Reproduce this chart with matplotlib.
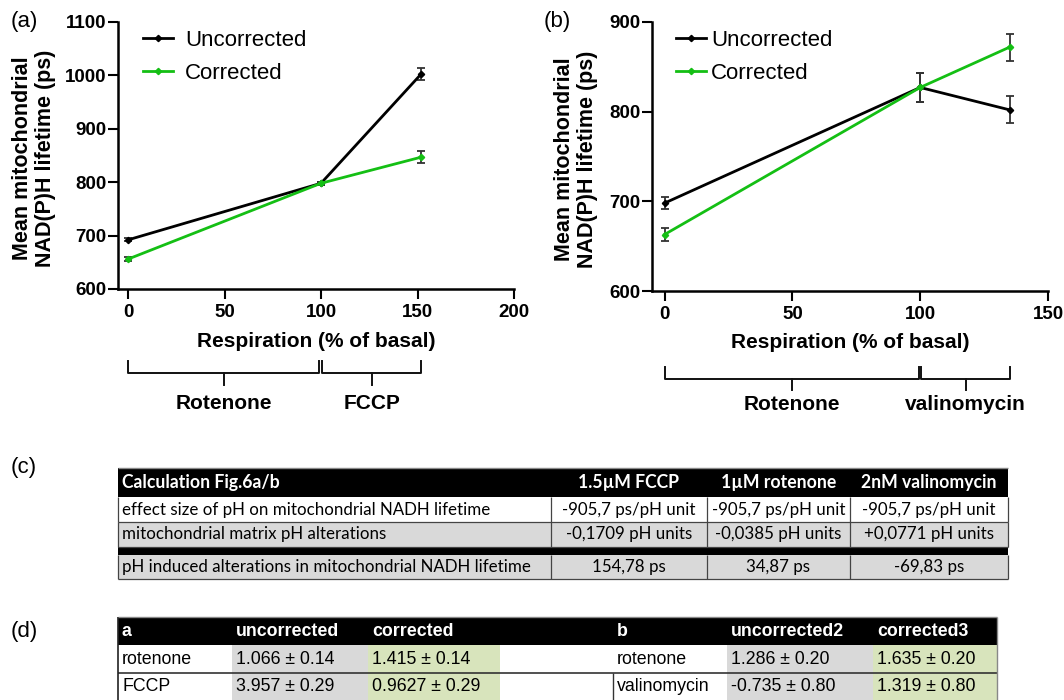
import matplotlib
matplotlib.use('Agg')
import matplotlib.pyplot as plt
from matplotlib.patches import Rectangle
from matplotlib.lines import Line2D

# ---------------- data ----------------
# Panel (a)
a_x = [0, 100, 152]
a_uncorr = [692, 798, 1003]
a_uncorr_err = [3, 3, 11]
a_corr = [656, 798, 847]
a_corr_err = [3, 3, 11]
a_xticks = [0, 50, 100, 150, 200]
a_yticks = [600, 700, 800, 900, 1000, 1100]
a_groups = ["Rotenone", "FCCP"]
a_group_spans = [(0, 99), (100.5, 152)]

# Panel (b)
b_x = [0, 100, 135]
b_uncorr = [698, 827, 802]
b_uncorr_err = [7, 16, 15]
b_corr = [663, 827, 872]
b_corr_err = [7, 16, 15]
b_xticks = [0, 50, 100, 150]
b_yticks = [600, 700, 800, 900]
b_groups = ["Rotenone", "valinomycin"]
b_group_spans = [(0, 99.5), (100.5, 135)]

series_names = ["Uncorrected", "Corrected"]
x_label = "Respiration (% of basal)"
y_label = "Mean mitochondrial\nNAD(P)H lifetime (ps)"

# Table (c)
c_header = ["Calculation Fig.6a/b", "1.5µM FCCP", "1µM rotenone", "2nM valinomycin"]
c_row_labels = ["effect size of pH on mitochondrial NADH lifetime",
                "mitochondrial matrix pH alterations",
                "pH induced alterations in mitochondrial NADH lifetime"]
c_values = [["-905,7 ps/pH unit", "-905,7 ps/pH unit", "-905,7 ps/pH unit"],
            ["-0,1709 pH units", "-0,0385 pH units", "+0,0771 pH units"],
            ["154,78 ps", "34,87 ps", "-69,83 ps"]]

# Table (d)
d_header_a = ["a", "uncorrected", "corrected"]
d_rows_a = [["rotenone", "1.066 ± 0.14", "1.415 ± 0.14"],
            ["FCCP", "3.957 ± 0.29", "0.9627 ± 0.29"]]
d_header_b = ["b", "uncorrected2", "corrected3"]
d_rows_b = [["rotenone", "1.286 ± 0.20", "1.635 ± 0.20"],
            ["valinomycin", "-0.735 ± 0.80", "1.319 ± 0.80"]]

# ---------------- style ----------------
W, H, DPI = 1064, 700, 100
GREEN = '#14bf14'
GRAY_CELL = '#d9d9d9'
GREEN_CELL = '#d8e4bc'
SANS = ['Liberation Sans', 'DejaVu Sans']
CAL = ['Lato', 'DejaVu Sans']
plt.rcParams['font.family'] = SANS

fig = plt.figure(figsize=(W / DPI, H / DPI), dpi=DPI)


def px_rect(l, t, r, b):
    return [l / W, 1 - b / H, (r - l) / W, (b - t) / H]


def make_chart(box, xs, unc, unc_e, cor, cor_e, xlim, ylim, xticks, yticks,
               ylab_xy, panel, panel_xy, leg_xy, htp, groups, spans, br_y):
    l, t, r, b = box
    ax = fig.add_axes(px_rect(l, t, r, b))
    ekw = dict(lw=2.0, marker='D', ms=3.2, ecolor='#333333', elinewidth=1.3,
               capsize=3, capthick=1.3)
    ax.errorbar(xs, unc, yerr=unc_e, color='black', zorder=3, **ekw)
    ax.errorbar(xs, cor, yerr=cor_e, color=GREEN, zorder=4, **ekw)
    ax.set_xlim(*xlim)
    ax.set_ylim(*ylim)
    ax.spines[['top', 'right']].set_visible(False)
    for s in ['left', 'bottom']:
        ax.spines[s].set_linewidth(1.8)
    ax.set_xticks(xticks)
    ax.set_xticklabels([str(v) for v in xticks], fontweight='bold', fontsize=13.5)
    ax.set_yticks(yticks)
    ax.set_yticklabels([str(v) for v in yticks], fontweight='bold', fontsize=13.5)
    ax.tick_params(axis='both', direction='out', length=7, width=1.5)
    ax.tick_params(axis='y', pad=1.5)
    ax.tick_params(axis='x', pad=3.5)
    hgt = b - t
    ax.set_xlabel(x_label, fontweight='bold', fontsize=15)
    ax.xaxis.set_label_coords(0.5, (b - 342) / hgt)
    ax.xaxis.label.set_va('center')
    fig.text(ylab_xy[0] / W, 1 - ylab_xy[1] / H, y_label, rotation=90,
             ha='center', va='center', fontweight='bold', fontsize=15.5,
             linespacing=1.08, multialignment='center')
    fig.text(panel_xy[0] / W, 1 - panel_xy[1] / H, panel, ha='left', va='center',
             fontsize=16)
    handles = [Line2D([], [], color='black', lw=2, marker='D', ms=3.2),
               Line2D([], [], color=GREEN, lw=2, marker='D', ms=3.2)]
    ax.legend(handles, series_names, loc='upper left',
              bbox_to_anchor=((leg_xy[0] - l) / (r - l), (b - leg_xy[1]) / hgt),
              frameon=False, fontsize=16, handlelength=1.35, handletextpad=htp,
              borderpad=0, borderaxespad=0, labelspacing=0.52)
    # brackets under the axis
    trans = ax.get_xaxis_transform()
    y_top, y_mid, y_tick, y_lab = [(b - v) / hgt for v in br_y]
    for (x0, x1), name in zip(spans, groups):
        xm = (x0 + x1) / 2
        ax.plot([x0, x0, x1, x1], [y_top, y_mid, y_mid, y_top], color='#111111',
                lw=1.4, transform=trans, clip_on=False)
        ax.plot([xm, xm], [y_mid, y_tick], color='#111111', lw=1.4,
                transform=trans, clip_on=False)
        ax.text(xm, y_lab, name, transform=trans, ha='center', va='center',
                fontweight='bold', fontsize=15)
    return ax


make_chart((118, 22, 514, 289), a_x, a_uncorr, a_uncorr_err, a_corr, a_corr_err,
           (-5.2, 200), (600, 1100), a_xticks, a_yticks,
           (34, 158), '(a)', (11, 22), (143, 30), 0.55, a_groups, a_group_spans,
           (361, 373, 385, 404))
make_chart((652, 22, 1048, 291), b_x, b_uncorr, b_uncorr_err, b_corr, b_corr_err,
           (-4.9, 150), (600, 900), b_xticks, b_yticks,
           (576, 159), '(b)', (544, 22), (676, 30), 0.22, b_groups, b_group_spans,
           (367, 379, 390, 405))

# ---------------- tables (pixel overlay) ----------------
tx = fig.add_axes([0, 0, 1, 1])
tx.set_xlim(0, W)
tx.set_ylim(H, 0)
tx.axis('off')


def rect(x0, y0, x1, y1, fc, ec='none', lw=0):
    tx.add_patch(Rectangle((x0, y0), x1 - x0, y1 - y0, facecolor=fc,
                           edgecolor=ec, lw=lw))


def hline(y, x0, x1, c='#444444', lw=0.9):
    tx.plot([x0, x1], [y, y], color=c, lw=lw, solid_capstyle='butt')


def vline(x, y0, y1, c='#444444', lw=0.9):
    tx.plot([x, x], [y0, y1], color=c, lw=lw, solid_capstyle='butt')


fig.text(11 / W, 1 - 467 / H, '(c)', ha='left', va='center', fontsize=16)
fig.text(11 / W, 1 - 632 / H, '(d)', ha='left', va='center', fontsize=16)

# table (c)
CFS = 12.2
c_cols = [118, 551, 707, 850, 1008]
c_head = (468, 497)
c_body = [(497, 522), (522, 547), (555, 579)]
c_sep = (547, 555)
c_fills = ['white', GRAY_CELL, GRAY_CELL]
rect(c_cols[0], c_head[0], c_cols[-1], c_head[1], 'black')
rect(c_cols[0], c_sep[0], c_cols[-1], c_sep[1], 'black')
for (y0, y1), fc in zip(c_body, c_fills):
    rect(c_cols[0], y0, c_cols[-1], y1, fc)
for i, txt in enumerate(c_header):
    yc = sum(c_head) / 2
    if i == 0:
        tx.text(c_cols[0] + 4, yc, txt, ha='left', va='center', color='white',
                fontweight='bold', fontsize=CFS + 0.5, family=CAL)
    else:
        tx.text((c_cols[i] + c_cols[i + 1]) / 2, yc, txt, ha='center', va='center',
                color='white', fontweight='bold', fontsize=CFS + 0.5, family=CAL)
for r, (y0, y1) in enumerate(c_body):
    yc = (y0 + y1) / 2
    tx.text(c_cols[0] + 4, yc, c_row_labels[r], ha='left', va='center',
            fontsize=CFS, family=CAL)
    for j, v in enumerate(c_values[r]):
        tx.text((c_cols[j + 1] + c_cols[j + 2]) / 2, yc, v, ha='center',
                va='center', fontsize=CFS, family=CAL)
    for xc in c_cols[1:-1]:
        vline(xc, y0, y1)
    vline(c_cols[0], y0, y1)
    vline(c_cols[-1], y0, y1)
    hline(y1, c_cols[0], c_cols[-1])
hline(c_head[0], c_cols[0], c_cols[-1], c='#888888', lw=1.0)

# table (d)
DFS = 12.8
d_cols_a = [118, 232, 368, 500]
d_cols_b = [613, 727, 873, 997]
d_head = (617, 645)
d_body = [(645, 673), (673, 700)]
d_fills = ['white', GRAY_CELL, GREEN_CELL]
rect(d_cols_a[0], d_head[0], d_cols_b[-1], d_head[1], 'black')
for cols, hdr, rows in [(d_cols_a, d_header_a, d_rows_a),
                        (d_cols_b, d_header_b, d_rows_b)]:
    for j, h in enumerate(hdr):
        tx.text(cols[j] + 4, sum(d_head) / 2, h, ha='left', va='center',
                color='white', fontweight='bold', fontsize=DFS, family=SANS)
    for r, (y0, y1) in enumerate(d_body):
        for j, v in enumerate(rows[r]):
            rect(cols[j], y0, cols[j + 1], y1, d_fills[j])
            tx.text(cols[j] + 4, (y0 + y1) / 2, v, ha='left', va='center',
                    fontsize=DFS, family=SANS)
hline(d_body[0][1], d_cols_a[0], d_cols_b[-1], c='#333333', lw=1.2)
vline(d_cols_a[0], d_head[0], H, c='#222222', lw=1.2)
vline(d_cols_b[0], d_body[1][0], H, c='#333333', lw=1.0)
vline(d_cols_b[-1], d_head[0], H, c='#888888', lw=1.0)
hline(d_head[0], d_cols_a[0], d_cols_b[-1], c='#888888', lw=1.0)

fig.savefig('out.png', dpi=DPI)
